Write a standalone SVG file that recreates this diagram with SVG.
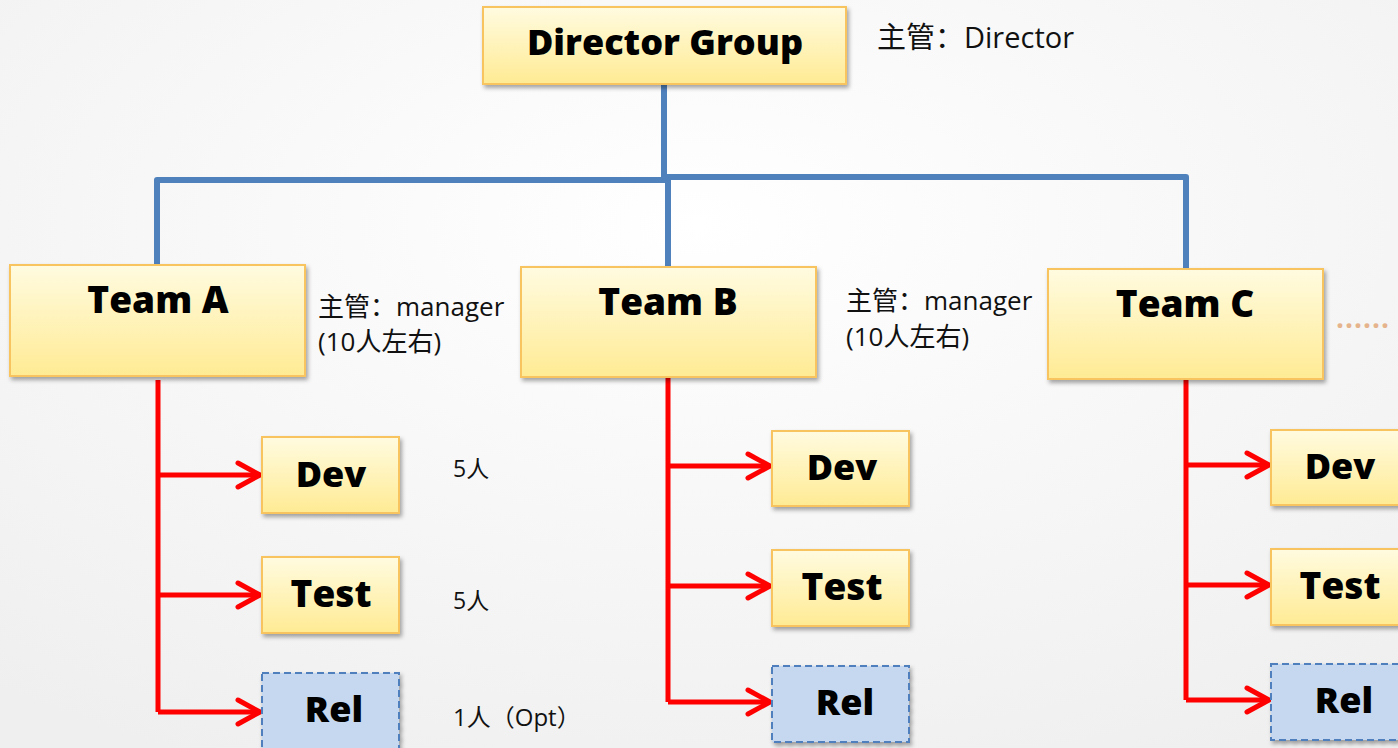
<svg xmlns="http://www.w3.org/2000/svg" width="1398" height="748" viewBox="0 0 1398 748">
<defs>
  <radialGradient id="bg" cx="50%" cy="30%" r="80%">
    <stop offset="0" stop-color="#ffffff"/>
    <stop offset="1" stop-color="#efefef"/>
  </radialGradient>
  <linearGradient id="yel" x1="0" y1="0" x2="0" y2="1">
    <stop offset="0" stop-color="#fffbe0"/>
    <stop offset="1" stop-color="#ffeb94"/>
  </linearGradient>
  <filter id="sh" x="-10%" y="-10%" width="130%" height="140%">
    <feDropShadow dx="2" dy="3" stdDeviation="2" flood-color="#000" flood-opacity="0.35"/>
  </filter>
  <marker id="arr" markerUnits="userSpaceOnUse" markerWidth="30" markerHeight="32" refX="25" refY="15" orient="auto" overflow="visible">
    <path d="M3,3 L25,15 L3,27" fill="none" stroke="#ff0000" stroke-width="5" stroke-linecap="round" stroke-linejoin="round"/>
  </marker>
  <style>
    .box{fill:url(#yel);stroke:#f7c45e;stroke-width:2;filter:url(#sh)}
    .rel{fill:#c6d8ef;stroke:#4f7fbc;stroke-width:2;stroke-dasharray:7 4;filter:url(#sh)}
    .big{font-family:"Open Sans","Noto Sans",sans-serif;font-weight:800;fill:#000;text-anchor:middle}
    .note{font-family:"Open Sans","Noto Sans CJK SC",sans-serif;fill:#111}
    .blue{fill:none;stroke:#4f81bd;stroke-width:6;stroke-linejoin:round}
    .red{fill:none;stroke:#ff0000;stroke-width:5;stroke-linejoin:round}
    .br{fill:none;stroke:#ff0000;stroke-width:5;marker-end:url(#arr)}
  </style>
</defs>
<rect width="1398" height="748" fill="url(#bg)"/>

<g id="connectors">
  <path class="blue" d="M664,84 V179"/>
  <path class="blue" d="M157,265 V180 H666"/>
  <path class="blue" d="M664,177 H1186 V270"/>
  <path class="blue" d="M668,180 V267"/>

  <path class="red" d="M158,380 V712"/>
  <path class="br" d="M158,475 H260"/>
  <path class="br" d="M158,595 H260"/>
  <path class="br" d="M158,712 H260"/>

  <path class="red" d="M668,377 V702"/>
  <path class="br" d="M668,466 H770"/>
  <path class="br" d="M668,586 H770"/>
  <path class="br" d="M668,702 H770"/>

  <path class="red" d="M1186,379 V700"/>
  <path class="br" d="M1186,465 H1269"/>
  <path class="br" d="M1186,585 H1269"/>
  <path class="br" d="M1186,700 H1269"/>
</g>

<g id="director">
  <rect class="box" x="483" y="7" width="363" height="77"/>
  <text class="big" x="665" y="55" font-size="36">Director Group</text>
</g>
<g id="director-note">
  <text class="note" x="877" y="48" font-size="29">主管：Director</text>
</g>

<g id="teamA">
  <rect class="box" x="10" y="265" width="295" height="111"/>
  <text class="big" x="158" y="313" font-size="37">Team A</text>
</g>
<g id="teamA-note">
  <text class="note" x="318" y="316" font-size="26">主管：manager</text>
  <text class="note" x="318" y="351" font-size="26">(10人左右)</text>
</g>
<g id="devA"><rect class="box" x="262" y="437" width="137" height="76"/><text class="big" x="331" y="487" font-size="36">Dev</text></g>
<g id="testA"><rect class="box" x="262" y="557" width="137" height="76"/><text class="big" x="331" y="607" font-size="37">Test</text></g>
<g id="relA"><rect class="rel" x="262" y="673" width="137" height="76"/><text class="big" x="334" y="722" font-size="36">Rel</text></g>
<g id="notesA">
  <text class="note" x="453" y="477" font-size="23">5人</text>
  <text class="note" x="453" y="609" font-size="23">5人</text>
  <text class="note" x="453" y="726" font-size="24">1人（Opt）</text>
</g>

<g id="teamB">
  <rect class="box" x="521" y="267" width="295" height="110"/>
  <text class="big" x="668" y="315" font-size="37">Team B</text>
</g>
<g id="teamB-note">
  <text class="note" x="846" y="310" font-size="26">主管：manager</text>
  <text class="note" x="846" y="346" font-size="26">(10人左右)</text>
</g>
<g id="devB"><rect class="box" x="772" y="431" width="137" height="75"/><text class="big" x="842" y="480" font-size="36">Dev</text></g>
<g id="testB"><rect class="box" x="772" y="550" width="137" height="76"/><text class="big" x="842" y="600" font-size="37">Test</text></g>
<g id="relB"><rect class="rel" x="772" y="666" width="137" height="76"/><text class="big" x="845" y="715" font-size="36">Rel</text></g>

<g id="teamC">
  <rect class="box" x="1048" y="269" width="275" height="110"/>
  <text class="big" x="1185" y="317" font-size="37">Team C</text>
</g>
<g id="more">
  <text x="1336" y="328" font-family="Open Sans, sans-serif" font-size="28" font-weight="bold" fill="#e6b48c" letter-spacing="1">......</text>
</g>
<g id="devC"><rect class="box" x="1271" y="430" width="140" height="75"/><text class="big" x="1340" y="479" font-size="36">Dev</text></g>
<g id="testC"><rect class="box" x="1271" y="549" width="140" height="76"/><text class="big" x="1340" y="599" font-size="37">Test</text></g>
<g id="relC"><rect class="rel" x="1271" y="664" width="140" height="76"/><text class="big" x="1344" y="713" font-size="36">Rel</text></g>
</svg>
